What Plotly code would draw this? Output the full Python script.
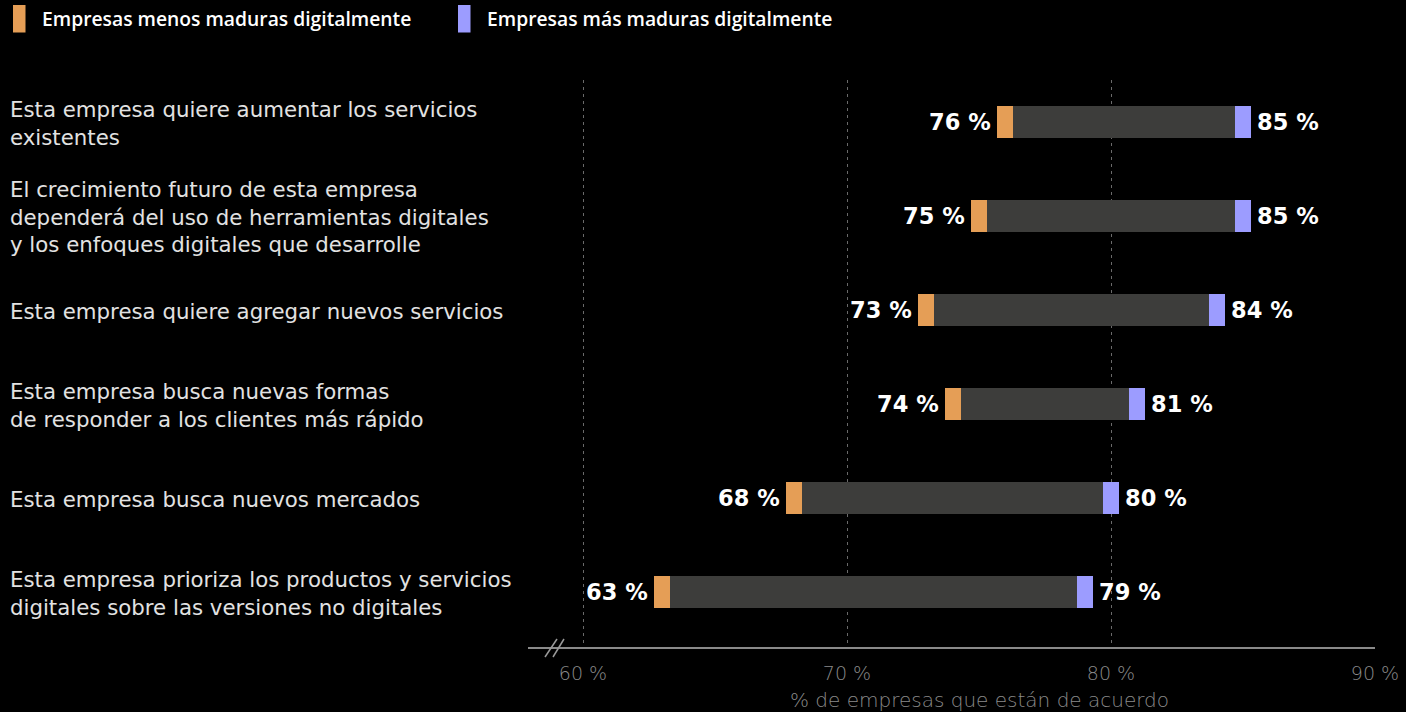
import plotly.graph_objects as go

# Survey statements (top to bottom) and agreement shares
categories = [
    "Esta empresa quiere aumentar los servicios<br>existentes",
    "El crecimiento futuro de esta empresa<br>dependerá del uso de herramientas digitales<br>y los enfoques digitales que desarrolle",
    "Esta empresa quiere agregar nuevos servicios",
    "Esta empresa busca nuevas formas<br>de responder a los clientes más rápido",
    "Esta empresa busca nuevos mercados",
    "Esta empresa prioriza los productos y servicios<br>digitales sobre las versiones no digitales",
]
menos_maduras = [76, 75, 73, 74, 68, 63]
mas_maduras = [85, 85, 84, 81, 80, 79]
tick_values = [60, 70, 80, 90]
tick_labels = ["60 %", "70 %", "80 %", "90 %"]
series_names = ["Empresas menos maduras digitalmente", "Empresas más maduras digitalmente"]
axis_title = "% de empresas que están de acuerdo"

ORANGE = "#E59E56"
PURPLE = "#9C9CFF"
GREY_BAR = "#3D3D3B"
WIDE = "DejaVu Sans"
LEG = "Open Sans"

n = len(categories)
ypos = [n - 1 - i for i in range(n)]
cap = 0.3  # half-width of end caps, in percentage points
bar_h = 0.33

fig = go.Figure()
# range bar between the two groups
fig.add_trace(go.Bar(
    y=ypos, x=[h - l for l, h in zip(menos_maduras, mas_maduras)], base=menos_maduras,
    orientation="h", width=bar_h, marker=dict(color=GREY_BAR, line_width=0),
    hoverinfo="skip", showlegend=False))
# end caps
fig.add_trace(go.Bar(
    y=ypos, x=[2 * cap] * n, base=[v - cap for v in menos_maduras],
    orientation="h", width=bar_h, marker=dict(color=ORANGE, line_width=0),
    name=series_names[0], showlegend=False))
fig.add_trace(go.Bar(
    y=ypos, x=[2 * cap] * n, base=[v - cap for v in mas_maduras],
    orientation="h", width=bar_h, marker=dict(color=PURPLE, line_width=0),
    name=series_names[1], showlegend=False))

annotations = []
for y, lo, hi, cat in zip(ypos, menos_maduras, mas_maduras, categories):
    annotations.append(dict(x=lo, y=y, xref="x", yref="y", text=f"{lo} %",
                            xanchor="right", yanchor="middle", xshift=-12, showarrow=False,
                            font=dict(family=WIDE, size=22.5, color="#FFFFFF", weight="bold")))
    annotations.append(dict(x=hi, y=y, xref="x", yref="y", text=f"{hi} %",
                            xanchor="left", yanchor="middle", xshift=12, showarrow=False,
                            font=dict(family=WIDE, size=22.5, color="#FFFFFF", weight="bold")))
    annotations.append(dict(x=0, y=y, xref="paper", yref="y", text=cat,
                            xanchor="left", yanchor="middle", align="left", xshift=-520,
                            yshift=-1, showarrow=False,
                            font=dict(family=WIDE, size=21.3, color="#E2E2E2")))

# axis title centred under the 60–90 span
annotations.append(dict(x=75, y=0, xref="x", yref="paper", text=axis_title,
                        xanchor="center", yanchor="middle", yshift=-53, showarrow=False,
                        font=dict(family=WIDE, size=20, color="#8A8A8A", weight=200)))

# legend, drawn by hand above the plot
PL, PW, PT, PH = 528, 847, 80, 567
def px_x(p):
    return (p - PL) / PW
def px_y(p):
    return (PT + PH - p) / PH

shapes = []
legend_items = [(13, ORANGE, series_names[0]), (458, PURPLE, series_names[1])]
for x0, col, label in legend_items:
    shapes.append(dict(type="rect", xref="paper", yref="paper",
                       x0=px_x(x0), x1=px_x(x0 + 12.5), y0=px_y(32.5), y1=px_y(5),
                       fillcolor=col, line_width=0))
    annotations.append(dict(x=px_x(x0 + 27), y=px_y(18.5), xref="paper", yref="paper",
                            text=label, xanchor="left", yanchor="middle", showarrow=False,
                            font=dict(family=LEG, size=19.3, color="#FFFFFF", weight=600)))

# axis break marks
for xa, xb in [(58.561, 59.015), (58.864, 59.280)]:
    shapes.append(dict(type="line", xref="x", yref="paper", x0=xa, x1=xb,
                       y0=px_y(657), y1=px_y(639), line=dict(color="#9A9A9A", width=1.5)))

fig.update_layout(
    width=1406, height=712,
    paper_bgcolor="#000000", plot_bgcolor="#000000",
    margin=dict(l=PL, r=1406 - PL - PW, t=PT, b=712 - PT - PH, autoexpand=False),
    barmode="overlay", bargap=0,
    showlegend=False,
    annotations=annotations, shapes=shapes,
    xaxis=dict(range=[60 - 55 / 26.4, 90], tickvals=tick_values, ticktext=tick_labels,
               automargin=False,
               showgrid=True, gridcolor="#6A6A6A", griddash="3px,4px", gridwidth=1,
               showline=True, linecolor="#8A8A8A", linewidth=1.5,
               ticks="", ticklabelstandoff=8, zeroline=False,
               tickfont=dict(family=WIDE, size=19, color="#8A8A8A", weight=200)),
    yaxis=dict(range=[-55 / 94, n - 1 + 42 / 94], showticklabels=False, showgrid=False,
               automargin=False,
               zeroline=False, showline=False, fixedrange=True),
)

fig.write_html("out.html")
